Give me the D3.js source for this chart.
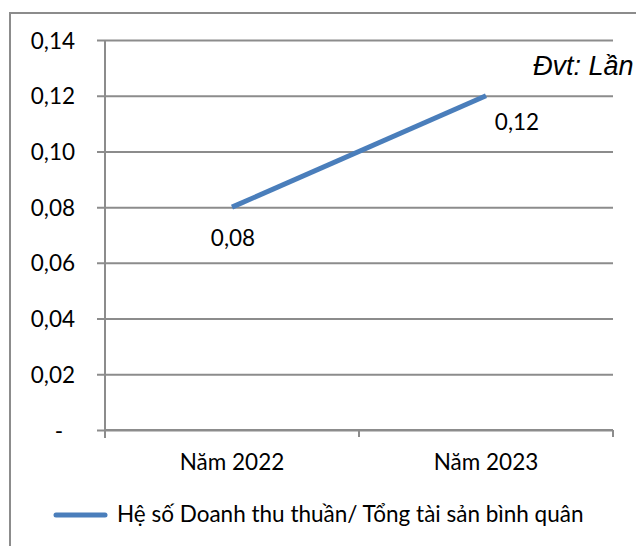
<!DOCTYPE html>
<html>
<head>
<meta charset="utf-8">
<script src="https://cdn.jsdelivr.net/npm/d3@7"></script>
<style>
    body { margin: 0; background: #fff; }
    svg { display: block; }
    .axis text, .label, .legend text { font-family: Lato, "Open Sans", sans-serif; font-size: 22.5px; fill: #000; }
    .unit { font-family: "Liberation Sans", Arial, sans-serif; font-style: italic; font-size: 27px; fill: #000; }
</style>
</head>
<body>
<script>
// data
var categories = ['Năm 2022', 'Năm 2023'];
var values = [0.08, 0.12];
var valueLabels = ['0,08', '0,12'];
var yTicks = [0, 0.02, 0.04, 0.06, 0.08, 0.10, 0.12, 0.14];
var yTickLabels = ['-', '0,02', '0,04', '0,06', '0,08', '0,10', '0,12', '0,14'];
var seriesName = 'Hệ số Doanh thu thuần/ Tổng tài sản bình quân';
var unitText = 'Đvt: Lần';

var svgWidth = 636, svgHeight = 546;
var plotLeft = 105, plotRight = 613, plotTop = 40, plotBottom = 430;
var gridColor = '#8c8c8c', lineColor = '#4a7ebb';

var svg = d3.select('body')
    .append('svg')
    .attr('width', svgWidth)
    .attr('height', svgHeight);

// outer frame (only top and left edges are visible in the picture)
svg.append('path')
    .attr('d', 'M10,' + svgHeight + ' V13 H' + svgWidth)
    .attr('fill', 'none')
    .attr('stroke', gridColor)
    .attr('stroke-width', 2);

var xScale = d3.scaleBand()
    .domain(categories)
    .range([plotLeft, plotRight]);

var yScale = d3.scaleLinear()
    .domain([0, 0.14])
    .range([plotBottom, plotTop]);

// gridlines + y axis
var yAxis = d3.axisLeft(yScale)
    .tickValues(yTicks)
    .tickSize(-(plotRight - plotLeft))
    .tickPadding(30)
    .tickFormat(function(d, i) { return yTickLabels[i]; });

var gy = svg.append('g')
    .attr('class', 'y axis')
    .attr('transform', 'translate(' + plotLeft + ',0)')
    .call(yAxis);
gy.select('.domain').remove();
gy.selectAll('line')
    .attr('x1', -8)
    .attr('stroke', gridColor)
    .attr('stroke-width', 2);
gy.selectAll('text')
    .attr('dy', '0.36em')
    .attr('dx', function(d) { return d === 0 ? -12 : 0; });

// vertical axis line
svg.append('line')
    .attr('x1', plotLeft).attr('x2', plotLeft)
    .attr('y1', plotTop).attr('y2', plotBottom + 8)
    .attr('stroke', gridColor)
    .attr('stroke-width', 2);

// x axis with category boundaries as ticks
var gx = svg.append('g')
    .attr('class', 'x axis')
    .attr('transform', 'translate(0,' + plotBottom + ')');
gx.append('line')
    .attr('x1', plotLeft).attr('x2', plotRight)
    .attr('stroke', gridColor)
    .attr('stroke-width', 2);
gx.selectAll('.tick')
    .data(categories)
    .enter()
    .append('line')
    .attr('x1', function(d) { return xScale(d) + xScale.bandwidth(); })
    .attr('x2', function(d) { return xScale(d) + xScale.bandwidth(); })
    .attr('y1', 0).attr('y2', 7)
    .attr('stroke', gridColor)
    .attr('stroke-width', 2);
gx.selectAll('text')
    .data(categories)
    .enter()
    .append('text')
    .attr('x', function(d) { return xScale(d) + xScale.bandwidth() / 2; })
    .attr('y', 40)
    .attr('text-anchor', 'middle')
    .text(function(d) { return d; });

// series line
var line = d3.line()
    .x(function(d, i) { return xScale(categories[i]) + xScale.bandwidth() / 2; })
    .y(function(d) { return yScale(d); });

svg.append('path')
    .datum(values)
    .attr('d', line)
    .attr('fill', 'none')
    .attr('stroke', lineColor)
    .attr('stroke-width', 5);

// data labels (first below, second below-right as in the original)
var labelOffsets = [[1, 39], [31, 34]];
svg.selectAll('.label')
    .data(values)
    .enter()
    .append('text')
    .attr('class', 'label')
    .attr('text-anchor', 'middle')
    .attr('x', function(d, i) { return xScale(categories[i]) + xScale.bandwidth() / 2 + labelOffsets[i][0]; })
    .attr('y', function(d, i) { return yScale(d) + labelOffsets[i][1]; })
    .text(function(d, i) { return valueLabels[i]; });

// unit note
svg.append('text')
    .attr('class', 'unit')
    .attr('x', 533)
    .attr('y', 75)
    .text(unitText);

// legend
var legend = svg.append('g').attr('class', 'legend');
legend.append('line')
    .attr('x1', 56).attr('x2', 105)
    .attr('y1', 515).attr('y2', 515)
    .attr('stroke', lineColor)
    .attr('stroke-width', 5)
    .attr('stroke-linecap', 'round');
legend.append('text')
    .attr('x', 117)
    .attr('y', 522)
    .text(seriesName);
</script>
</body>
</html>
